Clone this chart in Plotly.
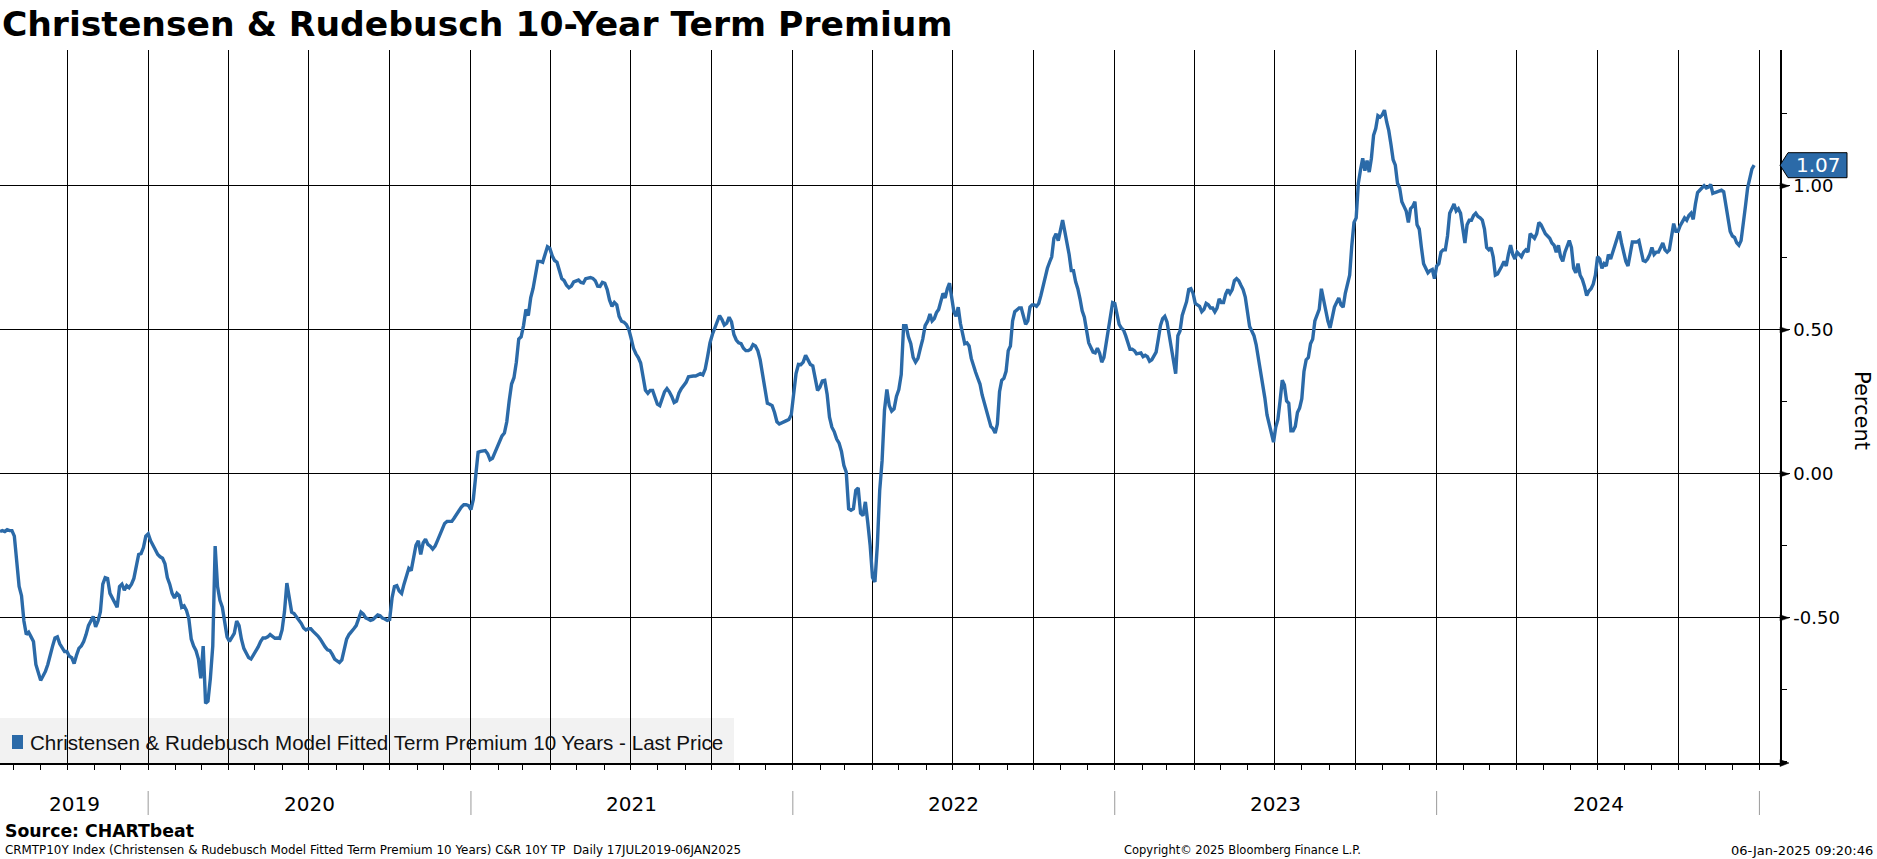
import pandas as pd
import plotly.graph_objects as go

TITLE = "Christensen & Rudebusch 10-Year Term Premium"
SERIES_NAME = "Christensen & Rudebusch Model Fitted Term Premium 10 Years - Last Price"
Y_TICKS = [-0.5, 0.0, 0.5, 1.0]
YEAR_LABELS = ["2019", "2020", "2021", "2022", "2023", "2024"]
YEAR_LABEL_DATES = ["2019-10-09", "2020-07-02", "2021-07-02", "2022-07-02", "2023-07-02", "2024-07-02"]
YEAR_STARTS = ["2020-01-01", "2021-01-01", "2022-01-01", "2023-01-01", "2024-01-01", "2025-01-01"]
X_RANGE = ["2019-07-17", "2025-01-24 08:00"]
FOOTER_LEFT = "CRMTP10Y Index (Christensen & Rudebusch Model Fitted Term Premium 10 Years) C&R 10Y TP  Daily 17JUL2019-06JAN2025"
FOOTER_MID = "Copyright\u00a9 2025 Bloomberg Finance L.P."
FOOTER_RIGHT = "06-Jan-2025 09:20:46"
SOURCE = "Source: CHARTbeat"

# Term premium (percent), evenly spaced readings
tp_2019_2022 = [
    -0.200, -0.197, -0.200, -0.194, -0.197, -0.197, -0.216, -0.296, -0.391, -0.423,
    -0.511, -0.558, -0.550, -0.566, -0.582, -0.662, -0.694, -0.717, -0.702, -0.686,
    -0.662, -0.627, -0.598, -0.570, -0.566, -0.590, -0.606, -0.617, -0.617, -0.633,
    -0.638, -0.659, -0.630, -0.606, -0.598, -0.582, -0.558, -0.527, -0.511, -0.495,
    -0.531, -0.511, -0.479, -0.383, -0.360, -0.363, -0.415, -0.431, -0.447, -0.463,
    -0.391, -0.383, -0.404, -0.388, -0.395, -0.383, -0.363, -0.320, -0.280, -0.277,
    -0.256, -0.216, -0.208, -0.232, -0.248, -0.264, -0.280, -0.288, -0.293, -0.312,
    -0.360, -0.383, -0.415, -0.431, -0.415, -0.423, -0.463, -0.458, -0.474, -0.503,
    -0.574, -0.598, -0.614, -0.643, -0.710, -0.598, -0.797, -0.789, -0.710, -0.598,
    -0.251, -0.391, -0.439, -0.463, -0.519, -0.566, -0.582, -0.566, -0.554, -0.511,
    -0.527, -0.574, -0.606, -0.622, -0.638, -0.643, -0.630, -0.614, -0.601, -0.582,
    -0.570, -0.570, -0.566, -0.558, -0.566, -0.571, -0.570, -0.571, -0.542, -0.479,
    -0.379, -0.439, -0.480, -0.485, -0.495, -0.506, -0.519, -0.535, -0.542, -0.538,
    -0.538, -0.547, -0.554, -0.563, -0.574, -0.590, -0.601, -0.611, -0.614, -0.627,
    -0.643, -0.649, -0.655, -0.646, -0.611, -0.574, -0.558, -0.550, -0.538, -0.527,
    -0.506, -0.480, -0.487, -0.500, -0.504, -0.509, -0.506, -0.498, -0.490, -0.493,
    -0.501, -0.504, -0.509, -0.506, -0.431, -0.391, -0.388, -0.407, -0.415, -0.383,
    -0.352, -0.328, -0.336, -0.296, -0.248, -0.232, -0.280, -0.240, -0.227, -0.245,
    -0.251, -0.261, -0.251, -0.232, -0.213, -0.188, -0.172, -0.165, -0.165, -0.165,
    -0.153, -0.140, -0.129, -0.115, -0.107, -0.107, -0.110, -0.124, -0.089, 0.006,
    0.075, 0.078, 0.080, 0.081, 0.070, 0.049, 0.054, 0.073, 0.095, 0.118,
    0.132, 0.142, 0.181, 0.253, 0.312, 0.334, 0.388, 0.468, 0.476, 0.515,
    0.571, 0.550, 0.611, 0.644, 0.687, 0.738, 0.738, 0.735, 0.762, 0.789,
    0.783, 0.757, 0.741, 0.735, 0.706, 0.678, 0.671, 0.655, 0.646, 0.652,
    0.667, 0.671, 0.673, 0.665, 0.663, 0.678, 0.681, 0.682, 0.679, 0.671,
    0.652, 0.651, 0.665, 0.662, 0.640, 0.603, 0.582, 0.595, 0.587, 0.547,
    0.530, 0.527, 0.519, 0.503, 0.471, 0.436, 0.417, 0.404, 0.385, 0.337,
    0.290, 0.280, 0.290, 0.290, 0.269, 0.242, 0.237, 0.258, 0.285, 0.296,
    0.285, 0.269, 0.248, 0.253, 0.280, 0.296, 0.305, 0.318, 0.337, 0.340,
    0.340, 0.340, 0.344, 0.348, 0.344, 0.364, 0.407, 0.455, 0.484, 0.507,
    0.535, 0.550, 0.536, 0.517, 0.523, 0.544, 0.528, 0.484, 0.465, 0.455,
    0.452, 0.436, 0.428, 0.428, 0.433, 0.449, 0.444, 0.428, 0.396, 0.348,
    0.285, 0.245, 0.242, 0.237, 0.213, 0.181, 0.173, 0.178, 0.183, 0.185,
    0.189, 0.205, 0.277, 0.348, 0.380, 0.379, 0.388, 0.412, 0.396, 0.380,
    0.375, 0.328, 0.290, 0.301, 0.323, 0.325, 0.277, 0.197, 0.162, 0.146,
    0.121, 0.107, 0.078, 0.030, 0.006, -0.121, -0.126, -0.121, -0.057, -0.049,
    -0.137, -0.145, -0.097, -0.169, -0.248, -0.360, -0.375, -0.248, -0.057, 0.046,
    0.221, 0.293, 0.237, 0.218, 0.226, 0.269, 0.293, 0.345, 0.515, 0.515,
    0.476, 0.452, 0.404, 0.388, 0.401, 0.436, 0.468, 0.515,
]

tp_2022_2024 = [
    0.531, 0.555, 0.531, 0.539, 0.560, 0.571, 0.603, 0.627, 0.611, 0.643,
    0.662, 0.611, 0.563, 0.547, 0.579, 0.523, 0.492, 0.452, 0.455, 0.444,
    0.401, 0.372, 0.353, 0.332, 0.312, 0.274, 0.245, 0.213, 0.189, 0.165,
    0.157, 0.142, 0.173, 0.285, 0.325, 0.332, 0.356, 0.428, 0.444, 0.531,
    0.563, 0.571, 0.576, 0.576, 0.547, 0.519, 0.531, 0.579, 0.587, 0.587,
    0.582, 0.592, 0.619, 0.651, 0.690, 0.714, 0.735, 0.754, 0.818, 0.834,
    0.810, 0.842, 0.881, 0.842, 0.802, 0.762, 0.706, 0.706, 0.667, 0.643,
    0.608, 0.566, 0.544, 0.503, 0.455, 0.439, 0.423, 0.420, 0.436, 0.420,
    0.388, 0.404, 0.452, 0.500, 0.547, 0.595, 0.592, 0.560, 0.519, 0.507,
    0.500, 0.480, 0.455, 0.433, 0.433, 0.428, 0.417, 0.420, 0.420, 0.407,
    0.412, 0.407, 0.391, 0.396, 0.412, 0.423, 0.468, 0.515, 0.539, 0.547,
    0.528, 0.480, 0.433, 0.401, 0.348, 0.480, 0.496, 0.550, 0.576, 0.598,
    0.640, 0.643, 0.627, 0.592, 0.587, 0.582, 0.563, 0.571, 0.592, 0.587,
    0.576, 0.576, 0.563, 0.576, 0.608, 0.595, 0.595, 0.624, 0.640, 0.627,
    0.640, 0.671, 0.678, 0.671, 0.655, 0.640, 0.614, 0.560, 0.512, 0.496,
    0.480, 0.449, 0.404, 0.348, 0.305, 0.264, 0.205, 0.169, 0.137, 0.110,
    0.162, 0.189, 0.253, 0.325, 0.309, 0.253, 0.245, 0.150, 0.150, 0.165,
    0.213, 0.229, 0.261, 0.356, 0.396, 0.404, 0.452, 0.468, 0.531, 0.555,
    0.571, 0.643, 0.603, 0.579, 0.531, 0.507, 0.547, 0.579, 0.595, 0.611,
    0.587, 0.579, 0.627, 0.659, 0.690, 0.794, 0.873, 0.889, 1.009, 1.056,
    1.096, 1.053, 1.088, 1.048, 1.096, 1.176, 1.199, 1.244, 1.239, 1.247,
    1.263, 1.223, 1.192, 1.144, 1.091, 1.072, 1.009, 0.993, 0.945, 0.929,
    0.913, 0.873, 0.921, 0.929, 0.945, 0.865, 0.850, 0.786, 0.730, 0.714,
    0.698, 0.706, 0.710, 0.678, 0.722, 0.730, 0.770, 0.778, 0.778, 0.826,
    0.905, 0.921, 0.937, 0.913, 0.921, 0.905, 0.857, 0.802, 0.865, 0.881,
    0.881, 0.897, 0.905, 0.894, 0.889, 0.881, 0.850, 0.786, 0.778, 0.786,
    0.754, 0.690, 0.694, 0.706, 0.722, 0.738, 0.722, 0.762, 0.794, 0.762,
    0.746, 0.770, 0.762, 0.754, 0.770, 0.778, 0.770, 0.834, 0.826, 0.818,
    0.834, 0.873, 0.865, 0.850, 0.834, 0.826, 0.818, 0.802, 0.794, 0.770,
    0.794, 0.754, 0.738, 0.770, 0.794, 0.810, 0.786, 0.714, 0.698, 0.730,
    0.690, 0.675, 0.651, 0.619, 0.635, 0.643, 0.659, 0.690, 0.754, 0.746,
    0.714, 0.730, 0.722, 0.762, 0.746, 0.770, 0.802, 0.818, 0.842, 0.802,
    0.770, 0.738, 0.722, 0.770, 0.805, 0.805, 0.805, 0.810, 0.770, 0.741,
    0.738, 0.746, 0.762, 0.786, 0.762, 0.770, 0.770, 0.786, 0.802, 0.778,
    0.770, 0.778, 0.834, 0.869, 0.842, 0.842, 0.862, 0.873, 0.889, 0.881,
    0.897, 0.905, 0.884, 0.937, 0.977, 0.985, 0.993, 1.001, 0.993, 0.996,
    1.005, 0.974, 0.977, 0.980, 0.985, 0.985, 0.980, 0.929, 0.873, 0.842,
    0.826, 0.821, 0.802, 0.794, 0.810, 0.881, 0.929, 0.993, 1.024, 1.059,
    1.072,
]

dates_2019_2022 = pd.date_range("2019-07-17", "2022-05-31", periods=len(tp_2019_2022))
dates_2022_2024 = pd.date_range("2022-06-03", "2024-12-26", periods=len(tp_2022_2024))

dates = list(dates_2019_2022) + list(dates_2022_2024)
values = tp_2019_2022 + tp_2022_2024

# ---------------- styling / layout ----------------
W, H = 1877, 859
PX0, PX1, PY0, PY1 = 0, 1780, 50, 763  # plot area in pixels
BLUE = "#2b6aa8"
FONT = "DejaVu Sans"


def fx(px):
    return (px - PX0) / (PX1 - PX0)


def fy(py):
    return (PY1 - py) / (PY1 - PY0)


fig = go.Figure()
fig.add_trace(go.Scatter(
    x=dates, y=values, mode="lines", name=SERIES_NAME,
    line=dict(color=BLUE, width=3.4), showlegend=False,
))

shapes = []
annotations = []

# legend box (drawn by hand to match the terminal style)
shapes.append(dict(type="rect", xref="paper", yref="paper", x0=0, x1=fx(734), y0=0, y1=fy(718),
                   fillcolor="#f2f2f2", line=dict(width=0), layer="below"))
shapes.append(dict(type="rect", xref="paper", yref="paper", x0=fx(12), x1=fx(23), y0=fy(749), y1=fy(735),
                   fillcolor=BLUE, line=dict(width=0)))
annotations.append(dict(xref="paper", yref="paper", x=fx(28), y=fy(742), xanchor="left", yanchor="middle",
                        text=SERIES_NAME, showarrow=False,
                        font=dict(family="Liberation Sans", size=20.6, color="#111111")))

# year separators and labels in the bottom band
for d in YEAR_STARTS:
    shapes.append(dict(type="line", xref="x", yref="paper", x0=d, x1=d, y0=fy(791), y1=fy(815),
                       line=dict(color="#9a9a9a", width=1)))
for lab, d in zip(YEAR_LABELS, YEAR_LABEL_DATES):
    annotations.append(dict(xref="x", yref="paper", x=d, y=fy(804), text=lab, showarrow=False,
                            xanchor="center", yanchor="middle", font=dict(family=FONT, size=20, color="black")))

# arrowheads on the right axis ticks
for v in Y_TICKS:
    shapes.append(dict(type="path", xref="paper", yref="y", xsizemode="pixel", ysizemode="pixel",
                       xanchor=1, yanchor=v, path="M 0,-3 L 9,0 L 0,3 Z",
                       fillcolor="black", line=dict(color="black", width=0.5)))
# arrowhead at the end of the time axis
shapes.append(dict(type="path", xref="paper", yref="paper", xsizemode="pixel", ysizemode="pixel",
                   xanchor=1, yanchor=0, path="M 0,-3.5 L 9,0 L 0,3.5 Z",
                   fillcolor="black", line=dict(color="black", width=0.5)))

# last value tag
last_val = values[-1]
shapes.append(dict(type="path", xref="paper", yref="y", xsizemode="pixel", ysizemode="pixel",
                   xanchor=1, yanchor=last_val,
                   path="M 0,0 L 8,12.5 L 67,12.5 L 67,-12.5 L 8,-12.5 Z",
                   fillcolor=BLUE, line=dict(color="black", width=1)))
annotations.append(dict(xref="paper", yref="y", x=1, y=last_val, xshift=38, text=f"{last_val:.2f}",
                        showarrow=False, xanchor="center", yanchor="middle",
                        font=dict(family=FONT, size=20, color="white")))

# y axis title (reads top to bottom)
annotations.append(dict(xref="paper", yref="paper", x=fx(1862), y=fy(410), text="Percent", textangle=90,
                        showarrow=False, xanchor="center", yanchor="middle",
                        font=dict(family=FONT, size=21, color="black")))

# footer
annotations.append(dict(xref="paper", yref="paper", x=fx(3), y=fy(831), text=f"<b>{SOURCE}</b>",
                        showarrow=False, xanchor="left", yanchor="middle",
                        font=dict(family=FONT, size=17.3, color="black")))
annotations.append(dict(xref="paper", yref="paper", x=fx(3), y=fy(850), text=FOOTER_LEFT,
                        showarrow=False, xanchor="left", yanchor="middle",
                        font=dict(family=FONT, size=11.9, color="black")))
annotations.append(dict(xref="paper", yref="paper", x=fx(1242), y=fy(850), text=FOOTER_MID,
                        showarrow=False, xanchor="center", yanchor="middle",
                        font=dict(family=FONT, size=11.5, color="black")))
annotations.append(dict(xref="paper", yref="paper", x=fx(1875), y=fy(850), text=FOOTER_RIGHT,
                        showarrow=False, xanchor="right", yanchor="middle",
                        font=dict(family=FONT, size=13, color="black")))

fig.update_layout(
    width=W, height=H,
    margin=dict(l=PX0, r=W - PX1, t=PY0, b=H - PY1, autoexpand=False),
    paper_bgcolor="white", plot_bgcolor="white",
    title=dict(text=f"<b>{TITLE}</b>", x=0.001, xref="container", xanchor="left",
               y=1 - 24 / H, yref="container", yanchor="middle",
               font=dict(family=FONT, size=34.6, color="black")),
    shapes=shapes, annotations=annotations,
    showlegend=False, hovermode=False,
)

fig.update_xaxes(
    type="date", range=X_RANGE,
    tick0="2019-10-01", dtick="M3",
    showgrid=True, gridcolor="black", gridwidth=1,
    showticklabels=False, ticks="outside", ticklen=5, tickcolor="black",
    minor=dict(dtick="M1", ticks="outside", ticklen=5, tickcolor="black", showgrid=False),
    showline=True, linecolor="black", linewidth=2,
    zeroline=False, fixedrange=True,
)

fig.update_yaxes(
    side="right", range=[-1.004, 1.472],
    tickmode="array", tickvals=Y_TICKS, ticktext=[f"{v:.2f}" for v in Y_TICKS],
    showgrid=True, gridcolor="black", gridwidth=1,
    ticks="outside", ticklen=8, tickcolor="black",
    minor=dict(dtick=0.25, tick0=0, ticks="outside", ticklen=5, tickcolor="black", showgrid=False),
    showline=True, linecolor="black", linewidth=1.5,
    zeroline=False,
    tickfont=dict(family=FONT, size=18, color="black"),
    fixedrange=True,
)

fig.write_html(
    "out.html",
    config={"displayModeBar": False},
    post_script="document.body.style.margin='0px';document.body.style.overflow='hidden';",
)
